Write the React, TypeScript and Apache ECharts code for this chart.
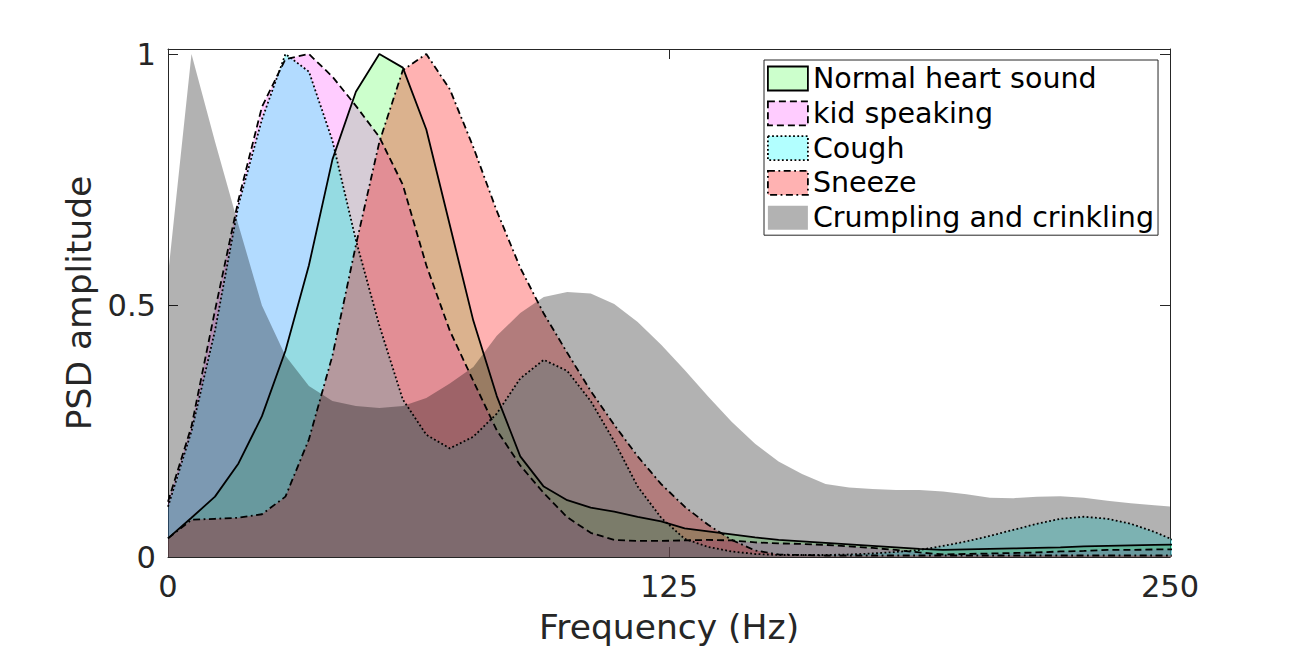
import React, { useEffect, useRef } from "react";
import * as echarts from "echarts";

// Frequency bins (Hz)
const freqHz = [
  0, 5.86, 11.72, 17.58, 23.44, 29.3, 35.16, 41.02, 46.88, 52.73, 58.59, 64.45, 70.31, 76.17,
  82.03, 87.89, 93.75, 99.61, 105.47, 111.33, 117.19, 123.05, 128.91, 134.77, 140.63, 146.48,
  152.34, 158.2, 164.06, 169.92, 175.78, 181.64, 187.5, 193.36, 199.22, 205.08, 210.94, 216.8,
  222.66, 228.52, 234.38, 240.23, 246.09, 251.95,
];

const seriesNames = [
  "Normal heart sound",
  "kid speaking",
  "Cough",
  "Sneeze",
  "Crumpling and crinkling",
];

const heartSound = [
  0.037, 0.078, 0.12, 0.186, 0.28, 0.41, 0.58, 0.79, 0.925, 1.0, 0.973, 0.85, 0.66, 0.47,
  0.32, 0.2, 0.14, 0.113, 0.098, 0.09, 0.08, 0.071, 0.057, 0.051, 0.045, 0.039, 0.034, 0.031,
  0.028, 0.025, 0.022, 0.019, 0.016, 0.014, 0.015, 0.016, 0.017, 0.018, 0.019, 0.021, 0.022,
  0.023, 0.024, 0.025,
];

const kidSpeaking = [
  0.11, 0.26, 0.49, 0.71, 0.895, 0.99, 1.0, 0.955, 0.897, 0.835, 0.74, 0.58, 0.45, 0.35,
  0.252, 0.182, 0.127, 0.079, 0.048, 0.034, 0.032, 0.032, 0.033, 0.034, 0.033, 0.029, 0.027,
  0.026, 0.024, 0.021, 0.018, 0.014, 0.009, 0.005, 0.006, 0.007, 0.008, 0.009, 0.011, 0.012,
  0.014, 0.014, 0.015, 0.015,
];

const cough = [
  0.1, 0.25, 0.45, 0.7, 0.87, 1.0, 0.965, 0.828, 0.63, 0.46, 0.313, 0.243, 0.216, 0.239,
  0.285, 0.355, 0.392, 0.37, 0.31, 0.23, 0.14, 0.078, 0.036, 0.02, 0.011, 0.006, 0.004, 0.004,
  0.004, 0.005, 0.007, 0.01, 0.014, 0.022, 0.031, 0.042, 0.054, 0.066, 0.076, 0.08, 0.076,
  0.066, 0.05, 0.03,
];

const sneeze = [
  0.037, 0.074, 0.076, 0.078, 0.085, 0.12, 0.234, 0.4, 0.62, 0.825, 0.968, 1.0, 0.93, 0.815,
  0.688, 0.575, 0.484, 0.406, 0.33, 0.263, 0.2, 0.145, 0.1, 0.064, 0.034, 0.013, 0.005, 0.004,
  0.003, 0.003, 0.003, 0.003, 0.003, 0.003, 0.003, 0.003, 0.003, 0.003, 0.003, 0.003, 0.003,
  0.003, 0.003, 0.003,
];

const crumpling = [
  0.56, 1.0, 0.826, 0.66, 0.5, 0.4, 0.34, 0.31, 0.3, 0.296, 0.3, 0.316, 0.345, 0.378, 0.44,
  0.485, 0.517, 0.527, 0.524, 0.503, 0.467, 0.422, 0.372, 0.319, 0.269, 0.225, 0.19, 0.165,
  0.145, 0.138, 0.135, 0.133, 0.133, 0.13, 0.125, 0.118, 0.117, 0.12, 0.121, 0.118, 0.112,
  0.107, 0.103, 0.099,
];

const xTicks = [0, 125, 250];
const yTicks = [0, 0.5, 1];

const seriesValues = [heartSound, kidSpeaking, cough, sneeze, crumpling];
const fillColors = [
  "rgba(0,255,0,0.2)",
  "rgba(255,0,255,0.2)",
  "rgba(0,255,255,0.3)",
  "rgba(255,0,0,0.3)",
  "rgba(0,0,0,0.3)",
];
const edgeTypes: any[] = ["solid", [7, 4], [1.8, 2.4], [7, 3.5, 1.8, 3.5], "solid"];
const edgeWidths = [1.8, 1.8, 1.8, 1.8, 0];

const FONT = "DejaVu Sans";
const AXIS_COLOR = "#262626";

export default function App() {
  const ref = useRef<HTMLDivElement>(null);

  useEffect(() => {
    document.body.style.margin = "0";
    if (!ref.current) return;
    const chart = echarts.init(ref.current, undefined, { renderer: "svg" });

    const baseX = {
      type: "value",
      min: 0,
      max: 250,
      splitLine: { show: false },
      axisLine: { show: true, onZero: false, lineStyle: { color: AXIS_COLOR, width: 1 } },
      axisTick: {
        show: true,
        inside: true,
        length: 10,
        customValues: xTicks,
        lineStyle: { color: AXIS_COLOR, width: 1 },
      },
    };
    const baseY = {
      type: "value",
      min: 0,
      max: 1.01,
      splitLine: { show: false },
      axisLine: { show: true, onZero: false, lineStyle: { color: AXIS_COLOR, width: 1 } },
      axisTick: {
        show: true,
        inside: true,
        length: 10,
        customValues: yTicks,
        lineStyle: { color: AXIS_COLOR, width: 1 },
      },
    };

    const option: any = {
      animation: false,
      backgroundColor: "#ffffff",
      textStyle: { fontFamily: FONT },
      grid: { left: 168, right: 124, top: 49, bottom: 92 },
      legend: {
        orient: "vertical",
        left: 764,
        top: 60,
        icon: "rect",
        itemWidth: 40,
        itemHeight: 24,
        itemGap: 5.8,
        padding: [4, 4, 3, 3],
        borderColor: AXIS_COLOR,
        borderWidth: 1,
        backgroundColor: "#ffffff",
        selectedMode: false,
        textStyle: { fontSize: 28.5, color: "#000000", fontFamily: FONT },
        data: seriesNames.map((name, i) => ({
          name,
          itemStyle: {
            color: fillColors[i],
            borderColor: "#000000",
            borderWidth: edgeWidths[i],
            borderType: edgeTypes[i],
            opacity: 1,
          },
        })),
      },
      xAxis: [
        {
          ...baseX,
          position: "bottom",
          name: "Frequency (Hz)",
          nameLocation: "middle",
          nameGap: 52,
          nameTextStyle: { fontSize: 34.5, color: AXIS_COLOR, fontFamily: FONT },
          axisLabel: {
            show: true,
            customValues: xTicks,
            fontSize: 30.5,
            color: AXIS_COLOR,
            fontFamily: FONT,
            margin: 14,
          },
        },
        {
          ...baseX,
          position: "top",
          axisLabel: { show: false },
        },
      ],
      yAxis: [
        {
          ...baseY,
          position: "left",
          name: "PSD amplitude",
          nameLocation: "middle",
          nameGap: 58,
          nameTextStyle: { fontSize: 34.5, color: AXIS_COLOR, fontFamily: FONT },
          axisLabel: {
            show: true,
            customValues: yTicks,
            fontSize: 30.5,
            color: AXIS_COLOR,
            fontFamily: FONT,
            margin: 12,
            formatter: (v: number) => String(v),
          },
        },
        {
          ...baseY,
          position: "right",
          axisLabel: { show: false },
        },
      ],
      series: seriesNames.map((name, i) => ({
        name,
        type: "line",
        xAxisIndex: 0,
        yAxisIndex: 0,
        data: freqHz.map((f, k) => [f, seriesValues[i][k]]),
        showSymbol: false,
        symbol: "none",
        silent: true,
        clip: true,
        color: fillColors[i],
        lineStyle: {
          color: "#000000",
          width: edgeWidths[i],
          type: edgeTypes[i],
          opacity: edgeWidths[i] > 0 ? 1 : 0,
        },
        areaStyle: { color: fillColors[i], opacity: 1 },
        emphasis: { disabled: true },
      })),
    };

    chart.setOption(option);
    return () => chart.dispose();
  }, []);

  return <div ref={ref} style={{ width: 1294, height: 649 }} />;
}
